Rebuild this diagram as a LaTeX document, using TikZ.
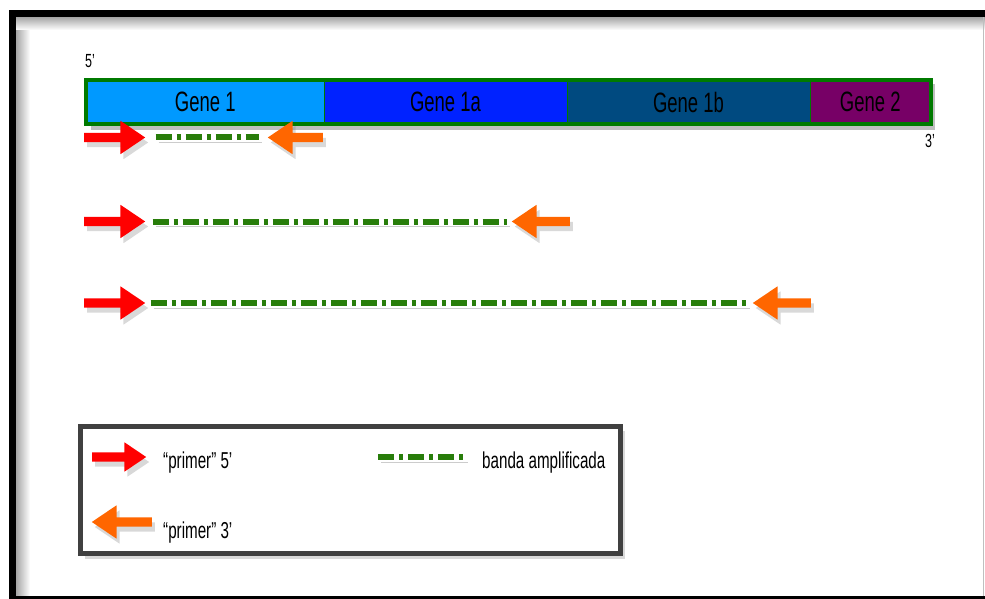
\documentclass[tikz,border=0pt]{standalone}
\usepackage{fontspec}
\newfontfamily\narrowsans[FakeStretch=0.66]{Liberation Sans}
\usetikzlibrary{shapes.arrows,shadows}
\definecolor{geneA}{RGB}{0,153,255}
\definecolor{geneB}{RGB}{0,34,255}
\definecolor{geneC}{RGB}{0,74,128}
\definecolor{geneD}{RGB}{119,0,102}
\definecolor{barline}{RGB}{0,122,0}
\definecolor{bandgreen}{RGB}{40,125,10}
\definecolor{fwdred}{RGB}{255,0,0}
\definecolor{revorange}{RGB}{255,102,0}
\definecolor{boxgray}{RGB}{64,64,64}

\begin{document}
\begin{tikzpicture}[x=1pt,y=-1pt,
  seg/.style={rectangle,inner sep=0pt,minimum height=43pt,draw=barline,line width=0.8pt,
    font=\narrowsans\fontsize{28}{30}\selectfont},
  primer/.style={single arrow,inner sep=4.5pt,single arrow head extend=12pt,
    single arrow tip angle=68,minimum height=58pt,
    drop shadow={opacity=0.3,shadow xshift=3pt,shadow yshift=-5pt}},
  fwd/.style={primer,fill=fwdred,anchor=tail},
  rev/.style={primer,fill=revorange,shape border rotate=180,anchor=tail},
  band/.style={draw=bandgreen,line width=6pt,dash pattern=on 16pt off 5pt on 4pt off 5pt,
    preaction={draw=black,opacity=0.2,transform canvas={shift={(3pt,-5pt)}}}},
  lbl/.style={font=\narrowsans\fontsize{23}{25}\selectfont,anchor=base west,inner sep=0pt},
  strand/.style={font=\narrowsans\fontsize{19}{21}\selectfont,anchor=base west,inner sep=0pt}
]
  \useasboundingbox (0,0) rectangle (985,599);
  \shade[left color=black!35,right color=white] (16,17) rectangle (30,596);
  \shade[top color=black!35,bottom color=white] (16,17) rectangle (985,30);
  \draw[line width=7pt] (990,13.5) -| (12.5,599) -- (990,599);
  \draw[black!25,line width=1pt] (983.5,17) -- (983.5,596);

  \fill[black,opacity=0.25] (91,84) rectangle (935,130);
  \node[seg,fill=geneA,minimum width=237.5pt] (g1) at (205.25,102) {Gene 1};
  \node[seg,fill=geneB,minimum width=243pt] (g1a) at (445.5,102) {Gene 1a};
  \node[seg,fill=geneC,minimum width=243pt] (g1b) at (688.5,102) {Gene 1b};
  \node[seg,fill=geneD,minimum width=120.5pt] (g2) at (870.25,102) {Gene 2};
  \draw[barline,line width=3.5pt] (g1.north west) rectangle (g2.south east);
  \node[strand] (s5) at (85,68) {5’};
  \node[strand] (s3) at (925,147) {3’};

  \node[fwd,minimum height=61pt] (f1) at (84,137.5) {};
  \node[rev,minimum height=55pt] (r1) at (323,137.5) {};
  \draw[band] ([xshift=10pt]f1.tip) -- ([xshift=-8pt]r1.tip);
  \node[fwd,minimum height=61pt] (f2) at (84,221.5) {};
  \node[rev] (r2) at (570,221.5) {};
  \draw[band] ([xshift=7pt]f2.tip) -- ([xshift=-4pt]r2.tip);
  \node[fwd,minimum height=61pt] (f3) at (84,303) {};
  \node[rev] (r3) at (811,303) {};
  \draw[band] ([xshift=5pt]f3.tip) -- ([xshift=-5pt]r3.tip);

  \node[draw=boxgray,fill=white,line width=5pt,minimum width=540pt,minimum height=127.5pt,
    drop shadow={opacity=0.3,shadow xshift=4pt,shadow yshift=-5pt}] (legend) at (350.5,489.75) {};
  \node[fwd,minimum height=54pt,single arrow head extend=10pt] (kf) at (92,457) {};
  \node[lbl] (kft) at (163,468) {“primer” 5’};
  \coordinate (kb1) at (378,457);
  \coordinate (kb2) at (465,457);
  \draw[band] (kb1) -- (kb2);
  \node[lbl] (kbt) at (482,468) {banda amplificada};
  \node[rev,minimum height=60pt] (kr) at (152,522) {};
  \node[lbl] (krt) at (163,538) {“primer” 3’};
\end{tikzpicture}
\end{document}
